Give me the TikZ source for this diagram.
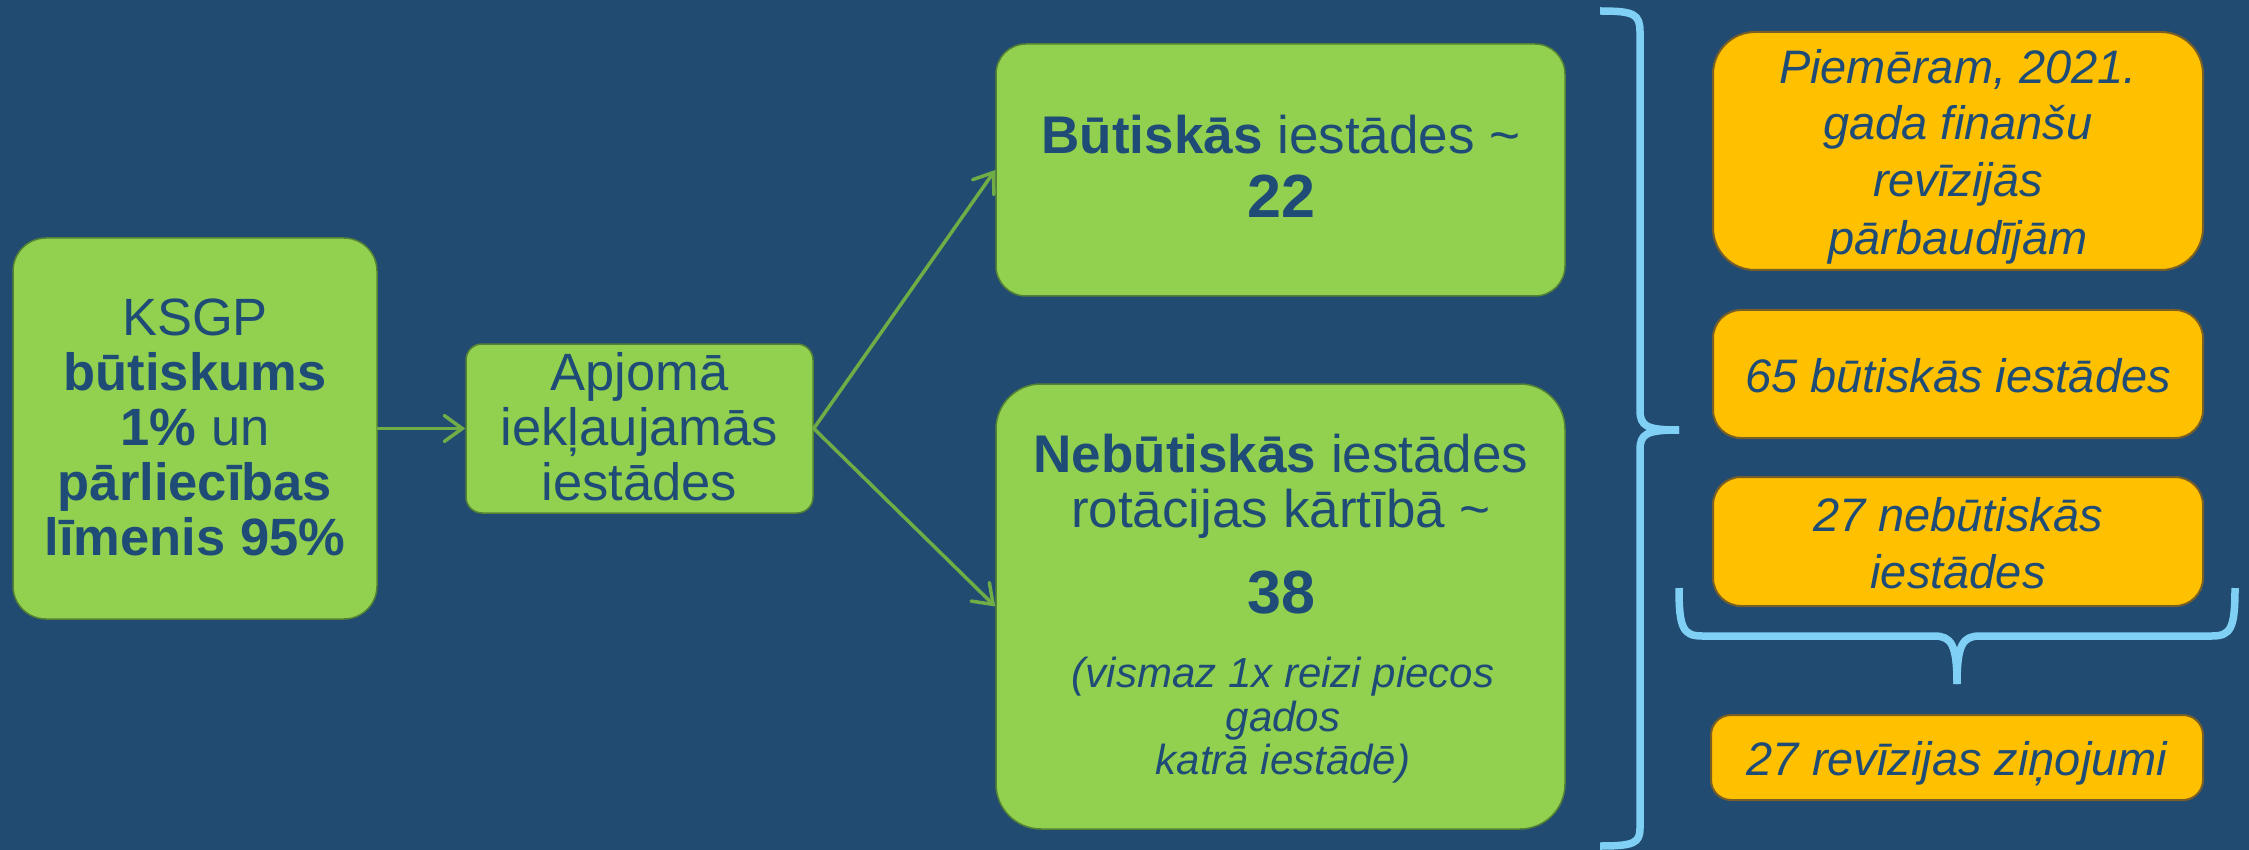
\documentclass[tikz,border=0pt]{standalone}
\usepackage{fontspec}
\setmainfont{Liberation Sans}
\usetikzlibrary{arrows.meta}
\definecolor{bgblue}{RGB}{33,75,113}
\definecolor{txtblue}{RGB}{31,76,118}
\definecolor{gfill}{RGB}{146,208,80}
\definecolor{gborder}{RGB}{84,130,53}
\definecolor{ofill}{RGB}{255,192,0}
\definecolor{oborder}{RGB}{120,95,40}
\definecolor{arrgreen}{RGB}{112,173,71}
\definecolor{braceblue}{RGB}{127,208,244}
\newcommand\fsA{\fontsize{52.5}{55}\selectfont}
\newcommand\fsM{\fontsize{53}{55}\selectfont}
\newcommand\fsN{\fontsize{61}{66}\selectfont}
\newcommand\fsI{\fontsize{42}{44}\selectfont\itshape}
\newcommand\fsR{\fontsize{47}{56}\selectfont\itshape}
\tikzset{
  gbox/.style={draw=gborder, line width=1.5pt, fill=gfill, inner sep=0pt},
  obox/.style={draw=oborder, line width=2pt, fill=ofill, inner sep=0pt},
  txt/.style={text=txtblue, inner sep=0pt, anchor=base},
  conn/.style={draw=arrgreen, line width=3.5pt, line cap=round, -{Straight Barb[length=18pt,width=26pt,line cap=round]}},
  bracepath/.style={draw=braceblue, line width=7.5pt, line cap=butt, line join=round},
}
\begin{document}
\begin{tikzpicture}[x=1pt,y=-1pt]
\useasboundingbox (0,0) rectangle (2249,850);
\fill[bgblue] (0,0) rectangle (2249,850);

% green boxes
\node[gbox, minimum width=364pt, minimum height=381pt, rounded corners=33pt] (ksgp) at (195,428.5) {};
\node[gbox, minimum width=347pt, minimum height=169pt, rounded corners=16pt] (apj) at (639.5,428.5) {};
\node[gbox, minimum width=569pt, minimum height=252pt, rounded corners=30pt] (but) at (1280.5,170) {};
\node[gbox, minimum width=569pt, minimum height=445pt, rounded corners=45pt] (neb) at (1280.5,606.5) {};

% orange boxes
\node[obox, minimum width=490pt, minimum height=238pt, rounded corners=42pt] (piem) at (1958,151) {};
\node[obox, minimum width=490pt, minimum height=128pt, rounded corners=28pt] (sfive) at (1958,374) {};
\node[obox, minimum width=490pt, minimum height=129pt, rounded corners=28pt] (sneb) at (1958,541.5) {};
\node[obox, minimum width=492pt, minimum height=85pt, rounded corners=20pt] (srev) at (1957,757.5) {};

% texts box 1
\node[txt, font=\fsA] (k1) at (195,335) {KSGP};
\node[txt, font=\fsA\bfseries] (k2) at (195,390) {būtiskums};
\node[txt, font=\fsA] (k3) at (195,445.7) {\textbf{1\%} un};
\node[txt, font=\fsA\bfseries] (k4) at (195,500) {pārliecības};
\node[txt, font=\fsA\bfseries] (k5) at (195,555) {līmenis 95\%};

% texts box 2
\node[txt, font=\fsA] (a1) at (639.5,390.7) {Apjomā};
\node[txt, font=\fsA] (a2) at (639.5,445) {iekļaujamās};
\node[txt, font=\fsA] (a3) at (639.5,500) {iestādes};

% texts box 3
\node[txt, font=\fsM] (b1) at (1281,153.5) {\textbf{Būtiskās} iestādes \symbol{126}};
\node[txt, font=\fsN\bfseries] (b2) at (1281,217.3) {22};

% texts box 4
\node[txt, font=\fsM] (n1) at (1281,472) {\textbf{Nebūtiskās} iestādes};
\node[txt, font=\fsM] (n2) at (1281,527) {rotācijas kārtībā \symbol{126}};
\node[txt, font=\fsN\bfseries] (n3) at (1281,613) {38};
\node[txt, font=\fsI] (n4) at (1283,687) {(vismaz 1x reizi piecos};
\node[txt, font=\fsI] (n5) at (1283,731) {gados};
\node[txt, font=\fsI] (n6) at (1283,774) {katrā iestādē)};

% right texts
\node[txt, font=\fsR] (p1) at (1958,83.5) {Piemēram, 2021.};
\node[txt, font=\fsR] (p2) at (1958,139.5) {gada finanšu};
\node[txt, font=\fsR] (p3) at (1958,197) {revīzijās};
\node[txt, font=\fsR] (p4) at (1958,255) {pārbaudījām};
\node[txt, font=\fsR] (s1) at (1958,392) {65 būtiskās iestādes};
\node[txt, font=\fsR] (c1) at (1958,531) {27 nebūtiskās};
\node[txt, font=\fsR] (c2) at (1958,588) {iestādes};
\node[txt, font=\fsR] (r1) at (1957,775) {27 revīzijas ziņojumi};

% connectors
\draw[conn] (ksgp.east) -- (apj.west);
\draw[conn] (apj.east) -- (but.west);
\draw[conn] (apj.east) -- (neb.west);

% big brace
\draw[bracepath] (1600,11) .. controls (1634,11) and (1640,14) .. (1640,32) -- (1640,410)
  .. controls (1640,426) and (1646,430) .. (1679,430);
\draw[bracepath] (1679,430) .. controls (1646,430) and (1640,434) .. (1640,450) -- (1640,828)
  .. controls (1640,843) and (1634,846) .. (1600,846);

% small brace
\draw[bracepath] (1679,588) .. controls (1679,628) and (1683,636) .. (1702,636) -- (1934,636)
  .. controls (1951,636) and (1957,644) .. (1957,684);
\draw[bracepath] (2235,588) .. controls (2235,628) and (2231,636) .. (2212,636) -- (1980,636)
  .. controls (1963,636) and (1957,644) .. (1957,684);
\end{tikzpicture}
\end{document}
